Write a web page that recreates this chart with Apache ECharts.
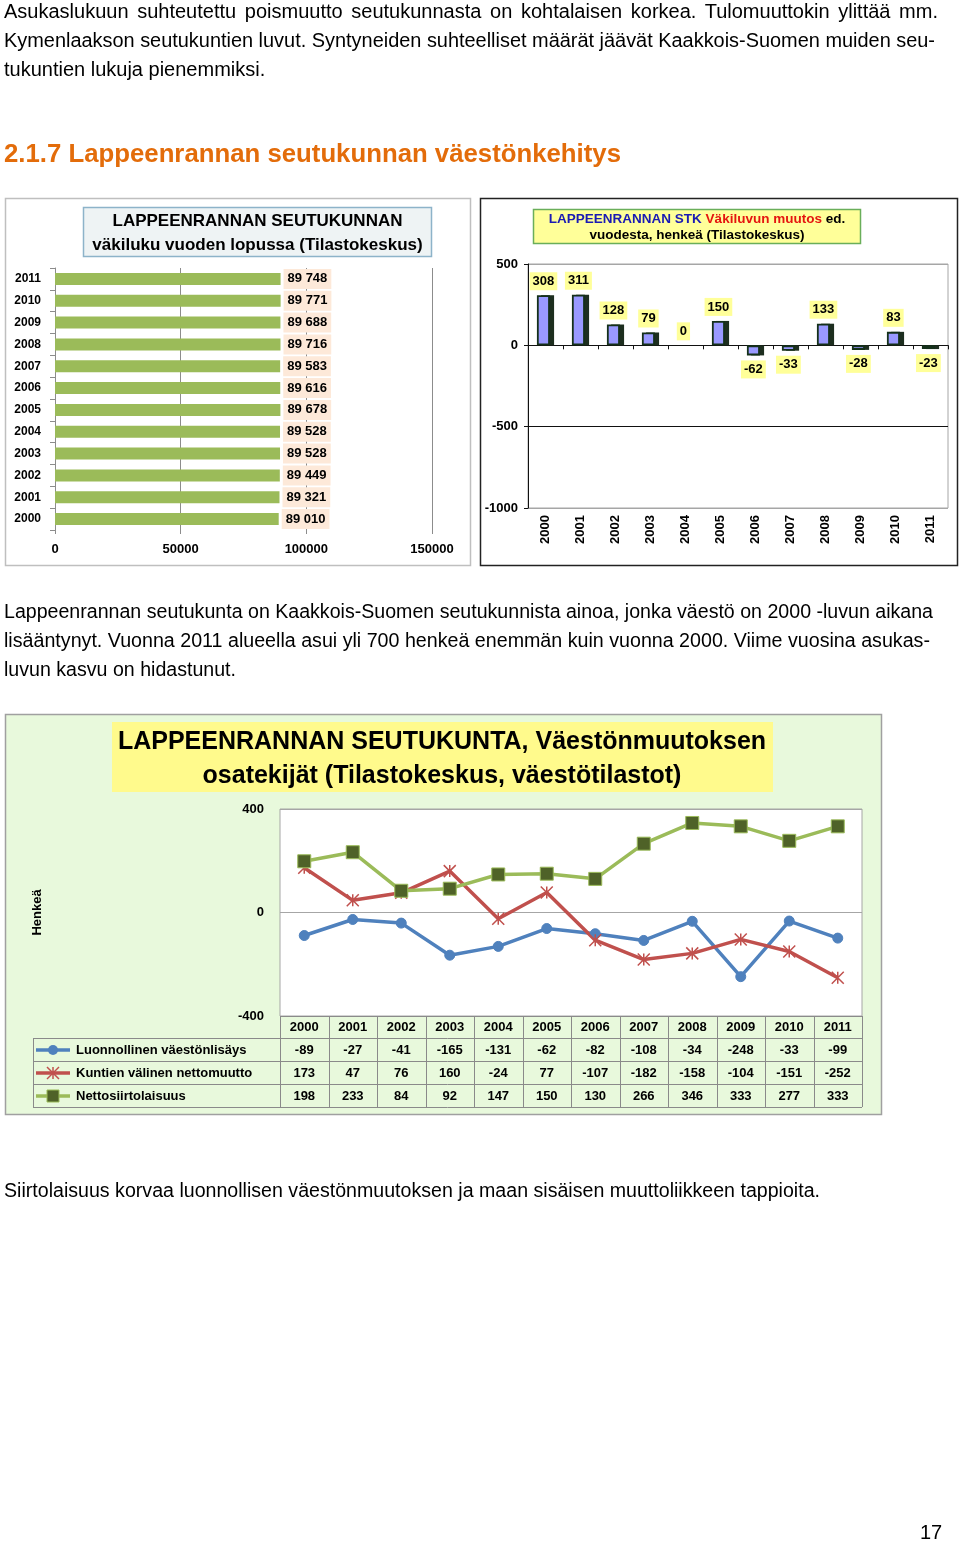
<!DOCTYPE html>
<html>
<head>
<meta charset="utf-8">
<script src="https://cdn.jsdelivr.net/npm/echarts@6/dist/echarts.min.js"></script>
<style>
  html, body { margin: 0; padding: 0; background: #fff; }
  #page { position: relative; width: 960px; height: 1542px; overflow: hidden; background: #fff; }
  #chart { position: absolute; left: 0; top: 0; width: 960px; height: 1542px; }
  .ln { position: absolute; left: 4px; white-space: nowrap; font-family: "Liberation Sans", Arial, sans-serif;
        font-size: 20px; line-height: 20px; color: #000; transform-origin: 0 0; display: inline-block; }
  .hd { font-size: 26px; line-height: 26px; font-weight: bold; color: #E36C0A; }
</style>
</head>
<body>
<div id="page">
  <div id="chart"></div>
  <span class="ln" data-m="justify" data-w="934" style="top:1px">Asukaslukuun suhteutettu poismuutto seutukunnasta on kohtalaisen korkea. Tulomuuttokin ylittää mm.</span>
  <span class="ln" data-m="justify" data-w="931" style="top:30px">Kymenlaakson seutukuntien luvut. Syntyneiden suhteelliset määrät jäävät Kaakkois-Suomen muiden seu-</span>
  <span class="ln" data-m="none" style="top:59px">tukuntien lukuja pienemmiksi.</span>
  <span class="ln hd" data-m="scale" data-w="617" style="top:140px">2.1.7 Lappeenrannan seutukunnan väestönkehitys</span>
  <span class="ln" data-m="scale" data-w="929" style="top:601px">Lappeenrannan seutukunta on Kaakkois-Suomen seutukunnista ainoa, jonka väestö on 2000 -luvun aikana</span>
  <span class="ln" data-m="scale" data-w="926" style="top:630px">lisääntynyt. Vuonna 2011 alueella asui yli 700 henkeä enemmän kuin vuonna 2000. Viime vuosina asukas-</span>
  <span class="ln" data-m="scale" data-w="232" style="top:659px">luvun kasvu on hidastunut.</span>
  <span class="ln" data-m="scale" data-w="816" style="top:1180px">Siirtolaisuus korvaa luonnollisen väestönmuutoksen ja maan sisäisen muuttoliikkeen tappioita.</span>
  <span class="ln" data-m="none" style="top:1522px;left:920px">17</span>
</div>
<script>
// ---------- DATA ----------
const years = ['2000','2001','2002','2003','2004','2005','2006','2007','2008','2009','2010','2011'];
const population = [89010, 89321, 89449, 89528, 89528, 89678, 89616, 89583, 89716, 89688, 89771, 89748];
const popChange = [308, 311, 128, 79, 0, 150, -62, -33, 133, -28, 83, -23];
const naturalIncrease = [-89, -27, -41, -165, -131, -62, -82, -108, -34, -248, -33, -99];
const netMunicipal = [173, 47, 76, 160, -24, 77, -107, -182, -158, -104, -151, -252];
const netMigration = [198, 233, 84, 92, 147, 150, 130, 266, 346, 333, 277, 333];
const seriesNames = ['Luonnollinen väestönlisäys', 'Kuntien välinen nettomuutto', 'Nettosiirtolaisuus'];
const seriesColors = ['#4F81BD', '#C0504D', '#9BBB59'];
const titleLeft = ['LAPPEENRANNAN SEUTUKUNNAN', 'väkiluku vuoden lopussa (Tilastokeskus)'];
const titleBottom = ['LAPPEENRANNAN SEUTUKUNTA, Väestönmuutoksen', 'osatekijät (Tilastokeskus, väestötilastot)'];

// ---------- text fitting ----------
document.querySelectorAll('.ln').forEach(el => {
  const m = el.dataset.m; const w = +el.dataset.w;
  if (m === 'none') return;
  const nat = el.getBoundingClientRect().width;
  if (m === 'justify' && nat < w) {
    const n = (el.textContent.match(/ /g) || []).length;
    el.style.wordSpacing = ((w - nat) / n) + 'px';
  } else {
    el.style.transform = 'scaleX(' + (w / nat) + ')';
  }
});

// ---------- chart ----------
const F = '"Liberation Sans", Arial, sans-serif';
const B = { fontFamily: F, fontWeight: 'bold', color: '#000' };
const fmt = v => String(v).replace(/\B(?=(\d{3})+(?!\d))/g, ' ');
const plain = v => String(v);
const starPath = 'path://M0 0L20 20M20 0L0 20M10 0L10 20';

const chart = echarts.init(document.getElementById('chart'), null, { renderer: 'canvas' });
chart.setOption({
  animation: false,
  textStyle: { fontFamily: F },
  grid: [
    { left: 55, top: 268, width: 377, height: 262 },
    { left: 528, top: 264, width: 420, height: 244, show: true, backgroundColor: 'transparent', borderColor: '#a6a6a6', borderWidth: 1 },
    { left: 280, top: 809, width: 582, height: 207, show: true, backgroundColor: '#fff', borderColor: '#a6a6a6', borderWidth: 1 }
  ],
  xAxis: [
    { gridIndex: 0, type: 'value', min: 0, max: 150000, interval: 50000,
      axisLine: { show: false }, axisTick: { show: true, length: 4, lineStyle: { color: '#8c8c8c' } },
      splitLine: { show: true, lineStyle: { color: '#8c8c8c' } },
      axisLabel: Object.assign({}, B, { fontSize: 13, margin: 13, formatter: plain }) },
    { gridIndex: 1, type: 'category', data: years, position: 'bottom',
      axisLine: { show: false, onZero: false }, axisTick: { show: false },
      axisLabel: Object.assign({}, B, { fontSize: 13, rotate: 90, margin: 7 }) },
    { gridIndex: 1, type: 'category', data: years, position: 'bottom',
      axisLine: { show: true, onZero: true, lineStyle: { color: '#111', width: 1 } },
      axisTick: { show: true, length: 4, lineStyle: { color: '#111' } }, axisLabel: { show: false } },
    { gridIndex: 2, type: 'category', data: years,
      axisLine: { show: false }, axisTick: { show: false }, axisLabel: { show: false } }
  ],
  yAxis: [
    { gridIndex: 0, type: 'category', data: years,
      axisLine: { show: true, lineStyle: { color: '#8c8c8c' } },
      axisTick: { show: true, length: 5, lineStyle: { color: '#8c8c8c' } },
      axisLabel: Object.assign({}, B, { fontSize: 12, margin: 14 }) },
    { gridIndex: 1, type: 'value', min: -1000, max: 500, interval: 500,
      axisLine: { show: true, lineStyle: { color: '#111' } },
      axisTick: { show: true, length: 4, lineStyle: { color: '#111' } },
      splitLine: { show: true, lineStyle: { color: ['#a6a6a6', '#111', '#111', '#a6a6a6'] } },
      axisLabel: Object.assign({}, B, { fontSize: 13, margin: 10, formatter: plain }) },
    { gridIndex: 2, type: 'value', min: -400, max: 400, interval: 400,
      name: 'Henkeä', nameLocation: 'middle', nameGap: 236,
      nameTextStyle: Object.assign({}, B, { fontSize: 13 }),
      axisLine: { show: false }, axisTick: { show: false },
      splitLine: { show: true, lineStyle: { color: '#a6a6a6' } },
      axisLabel: Object.assign({}, B, { fontSize: 13, margin: 16, formatter: plain }) }
  ],
  series: [
    { type: 'bar', xAxisIndex: 0, yAxisIndex: 0, data: population, barWidth: 12,
      itemStyle: { color: '#9BBB59' },
      label: Object.assign({}, B, { show: true, position: 'right', distance: 3, fontSize: 13, lineHeight: 14,
        backgroundColor: '#FDE9D9', padding: [3, 4], formatter: p => fmt(p.value) }) },
    // front face of the 3-D columns
    { type: 'bar', xAxisIndex: 1, yAxisIndex: 1, barWidth: 13, barGap: '-68%', z: 3,
      data: popChange.map(v => ({ value: v, label: { position: v < 0 ? 'bottom' : 'top' },
        itemStyle: v === 0 ? { borderWidth: 0, color: 'transparent' } : undefined })),
      itemStyle: { color: '#9999FF', borderColor: '#14301a', borderWidth: 1.8 },
      label: Object.assign({}, B, { show: true, fontSize: 13, lineHeight: 14, distance: 5,
        backgroundColor: '#FFFF99', padding: [2, 3] }) },
    // depth face of the 3-D columns (same values, drawn behind)
    { type: 'bar', xAxisIndex: 1, yAxisIndex: 1, barWidth: 13, z: 2, silent: true,
      data: popChange.map(v => ({ value: v, itemStyle: v === 0 ? { color: 'transparent' } : undefined })),
      itemStyle: { color: '#1d2e1f' } },
    { type: 'line', name: seriesNames[0], xAxisIndex: 3, yAxisIndex: 2, data: naturalIncrease,
      symbol: 'circle', symbolSize: 10, lineStyle: { color: seriesColors[0], width: 3.5 },
      itemStyle: { color: seriesColors[0], borderColor: seriesColors[0], borderWidth: 1 } },
    { type: 'line', name: seriesNames[1], xAxisIndex: 3, yAxisIndex: 2, data: netMunicipal,
      symbol: starPath, symbolSize: 12, lineStyle: { color: seriesColors[1], width: 3.5 },
      itemStyle: { color: seriesColors[1], borderColor: seriesColors[1], borderWidth: 1.5 } },
    { type: 'line', name: seriesNames[2], xAxisIndex: 3, yAxisIndex: 2, data: netMigration,
      symbol: 'rect', symbolSize: 13, lineStyle: { color: seriesColors[2], width: 3.5 },
      itemStyle: { color: '#4F6228', borderColor: seriesColors[2], borderWidth: 1 } }
  ]
});

// ---------- frames, titles and data table ----------
const g = [];
const txt = (x, y, text, size, extra) => g.push({ type: 'text', x: x, y: y, z: 100,
  style: Object.assign({ text: text, fill: '#000', fontFamily: F, fontWeight: 'bold', fontSize: size,
    textAlign: 'center', textVerticalAlign: 'middle' }, extra || {}) });
const line = (x1, y1, x2, y2, color, w, z) => g.push({ type: 'line', z: z || 90,
  shape: { x1: x1, y1: y1, x2: x2, y2: y2 }, style: { stroke: color, lineWidth: w } });

// frames
g.push({ type: 'rect', z: -10, shape: { x: 5.5, y: 198.5, width: 465, height: 367 }, style: { fill: '#fff', stroke: '#bfbfbf', lineWidth: 1.5 } });
g.push({ type: 'rect', z: -10, shape: { x: 480.5, y: 198.5, width: 477, height: 367 }, style: { fill: '#fff', stroke: '#222', lineWidth: 1.5 } });
g.push({ type: 'rect', z: -10, shape: { x: 5.5, y: 714.5, width: 876, height: 400 }, style: { fill: '#E8F9DC', stroke: '#a0a0a0', lineWidth: 1.5 } });
// left title
g.push({ type: 'rect', z: 95, shape: { x: 83.5, y: 207.5, width: 348, height: 49 }, style: { fill: '#EEF3F4', stroke: '#8DB3C9', lineWidth: 1.5 } });
txt(257.5, 221, titleLeft[0], 17);
txt(257.5, 245, titleLeft[1], 17);
// right title
g.push({ type: 'rect', z: 95, shape: { x: 533.5, y: 209.5, width: 327, height: 34 }, style: { fill: '#FFFF99', stroke: '#6AAE5A', lineWidth: 1.5 } });
g.push({ type: 'text', x: 697, y: 219.5, z: 100, style: {
  text: '{b|LAPPEENRANNAN STK }{r|Väkiluvun muutos}{k| ed.}',
  textAlign: 'center', textVerticalAlign: 'middle',
  rich: {
    b: { fill: '#1A1AB4', fontFamily: F, fontWeight: 'bold', fontSize: 13.5 },
    r: { fill: '#E5150F', fontFamily: F, fontWeight: 'bold', fontSize: 13.5 },
    k: { fill: '#000', fontFamily: F, fontWeight: 'bold', fontSize: 13.5 }
  } } });
txt(697, 235, 'vuodesta, henkeä (Tilastokeskus)', 13.5);
// bottom title
g.push({ type: 'rect', z: 95, shape: { x: 112, y: 722, width: 661, height: 70 }, style: { fill: '#FFFA8C' } });
txt(442, 742, titleBottom[0], 25);
txt(442, 776, titleBottom[1], 25);

// data table using the category axis scale
const xs = years.map(y => chart.convertToPixel({ xAxisIndex: 3 }, y));
const band = xs[1] - xs[0];
const tLeft = xs[0] - band / 2, tRight = xs[xs.length - 1] + band / 2;
const tTop = 1016, rowH = 23, hdrBottom = 1038;
const keyLeft = 33;
const rows = [naturalIncrease, netMunicipal, netMigration];
const gc = '#8a8a8a';
line(tLeft, tTop + 0.5, tRight, tTop + 0.5, gc, 1);
for (let r = 0; r <= 3; r++) {
  const y = Math.round(hdrBottom + r * rowH) + 0.5;
  line(keyLeft, y, tRight, y, gc, 1);
}
const tBottom = hdrBottom + 3 * rowH;
line(keyLeft + 0.5, hdrBottom, keyLeft + 0.5, tBottom, gc, 1);
for (let i = 0; i <= years.length; i++) {
  const x = Math.round(tLeft + i * band) + 0.5;
  line(x, tTop, x, tBottom, gc, 1);
}
years.forEach((y, i) => txt(xs[i], (tTop + hdrBottom) / 2 + 0.5, y, 13));
rows.forEach((vals, r) => {
  const cy = hdrBottom + r * rowH + rowH / 2 + 0.5;
  vals.forEach((v, i) => txt(xs[i], cy, String(v), 13));
  // legend key
  line(36, cy, 70, cy, seriesColors[r], 3.5);
  if (r === 0) g.push({ type: 'circle', z: 96, shape: { cx: 53, cy: cy, r: 5 }, style: { fill: seriesColors[0] } });
  if (r === 1) {
    line(47, cy - 6, 59, cy + 6, seriesColors[1], 1.5, 96);
    line(59, cy - 6, 47, cy + 6, seriesColors[1], 1.5, 96);
    line(53, cy - 6, 53, cy + 6, seriesColors[1], 1.5, 96);
  }
  if (r === 2) g.push({ type: 'rect', z: 96, shape: { x: 47, y: cy - 6, width: 12, height: 12 }, style: { fill: '#4F6228', stroke: seriesColors[2], lineWidth: 1 } });
  txt(76, cy, seriesNames[r], 13, { textAlign: 'left' });
});

chart.setOption({ graphic: { elements: g } });
</script>
</body>
</html>
